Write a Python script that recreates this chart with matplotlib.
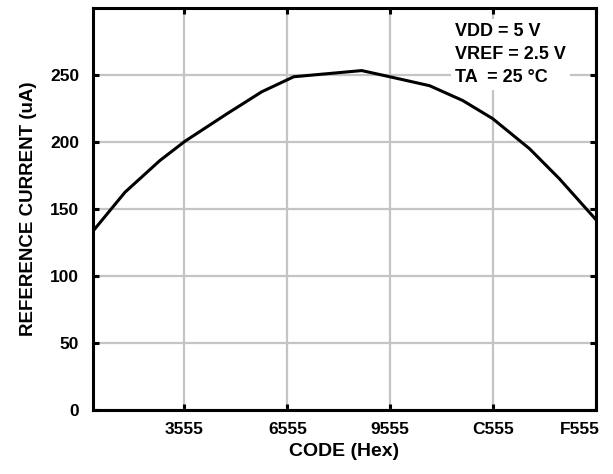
import matplotlib
matplotlib.use('Agg')
import matplotlib.pyplot as plt
from matplotlib.transforms import ScaledTranslation

plt.rcParams['font.family'] = ['Liberation Sans', 'DejaVu Sans']
plt.rcParams['font.weight'] = 'bold'

# curve: code (decimal) vs reference current (uA)
code = [2730, 6548, 10724, 13700, 18716, 22892, 26710, 34822,
        38164, 42935, 46873, 50452, 54866, 58445, 62805]
current = [133.5, 162.5, 186.2, 200.5, 221.0, 237.5, 248.7, 253.3,
           248.7, 242.0, 231.0, 217.5, 195.0, 172.5, 142.0]

xtick_vals = [0x3555, 0x6555, 0x9555, 0xC555, 0xF555]
xtick_labels = ['3555', '6555', '9555', 'C555', 'F555']
ytick_vals = [0, 50, 100, 150, 200, 250]

fig = plt.figure(figsize=(6.13, 4.74), dpi=100)
ax = fig.add_axes([93/613, 1 - 410/474, (596 - 93)/613, (410 - 8)/474])

ax.plot(code, current, color='black', lw=2.2, zorder=3)

ax.set_xlim(2730, 0xF555)
ax.set_ylim(0, 300)
ax.set_xticks(xtick_vals)
ax.set_xticklabels(xtick_labels)
ax.set_yticks(ytick_vals)

ax.grid(True, color='#c4c4c4', lw=1.6, zorder=0)
for s in ax.spines.values():
    s.set_linewidth(2.2)
ax.tick_params(direction='in', length=4, width=2.2, top=True, right=True,
               labelsize=12.5)
ax.tick_params(axis='y', pad=10)
ax.tick_params(axis='x', pad=9)
for lab in ax.get_xticklabels() + ax.get_yticklabels():
    lab.set_fontweight('bold')

# last code label sits flush with the right edge
last = ax.get_xticklabels()[-1]
last.set_horizontalalignment('right')
last.set_transform(last.get_transform() + ScaledTranslation(4/100, 0, fig.dpi_scale_trans))

ax.set_xlabel('CODE (Hex)', fontsize=14, fontweight='bold', labelpad=4)
ax.set_ylabel('REFERENCE CURRENT (uA)', fontsize=13.5, fontweight='bold', labelpad=9)

fig.text(455/613, 1 - 23/474, 'VDD = 5 V\nVREF = 2.5 V\nTA  = 25 °C',
         fontsize=13, fontweight='bold', va='top', ha='left', linespacing=1.45,
         bbox=dict(facecolor='white', edgecolor='none', pad=3), zorder=5)

fig.savefig('out.png', dpi=100)
